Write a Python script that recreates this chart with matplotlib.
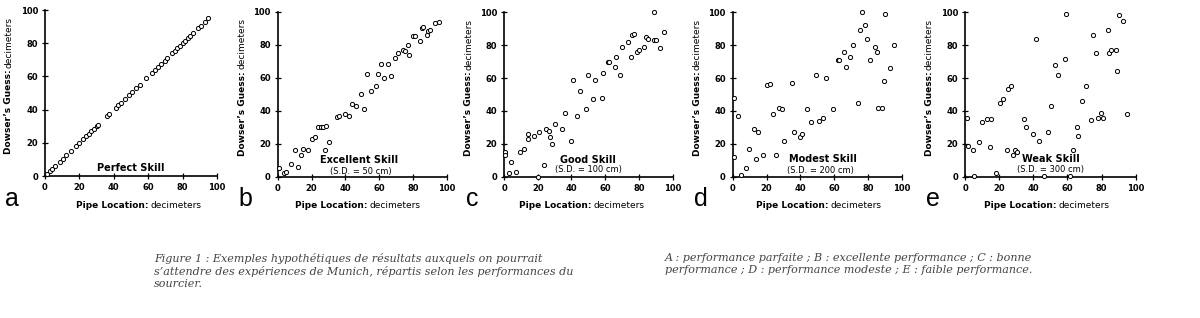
import matplotlib.pyplot as plt

# panel data: pipe location (x) vs dowser's guess (y), decimeters
a_x = [1, 3, 4, 6, 8.5, 10.5, 12.5, 15, 18, 20, 22, 24, 25.5, 27, 28.5, 30, 31,
       36, 37.5, 41, 42.5, 44, 46.5, 49, 50.5, 53, 55, 59, 62, 64, 65.5, 67.5,
       69.5, 71, 74, 75.5, 77, 78.5, 80, 81.5, 83, 84.5, 86, 89, 90.5, 93, 95]
a_y = list(a_x)

b_x = [1, 4, 5, 8, 10, 12, 14, 15, 18, 20, 22, 24, 25.5, 27, 28.5, 28, 30.5, 35,
       36, 40, 42, 44, 46, 49, 51, 53, 55, 58, 59, 61, 63, 65, 67, 69, 71, 74,
       75, 77, 77.5, 80, 81, 84, 85, 86, 88, 89, 90, 93, 95]
b_y = [5, 2, 3, 8, 16, 6, 13, 17, 16, 23, 24, 30, 30, 30, 31, 16, 21, 36, 37,
       38, 37, 44, 43, 50, 41, 62, 52, 55, 62, 68, 60, 68, 61, 72, 75, 77, 76,
       80, 74, 85, 85, 82, 90, 91, 86, 88, 89, 93, 94]

c_x = [0.5, 0.5, 3, 4, 7, 9.5, 12, 14, 14.5, 17.5, 21, 23.5, 20, 25, 26.5, 27.5,
       28.5, 30, 34.5, 36, 39.5, 41, 43, 45, 48.5, 50, 52.5, 54, 58, 58.5, 61.5,
       62.5, 66, 66.5, 68.5, 70, 73.5, 75, 76, 77, 79, 80, 83, 84, 85.5, 89, 89,
       90, 92.5, 95]
c_y = [15, 13, 2, 9, 3, 15, 17, 26, 23, 25, 27, 7, 0, 29, 28, 24, 20, 32, 29, 39,
       22, 59, 37, 52, 41, 62, 47, 59, 48, 63, 69.5, 70, 67, 73, 62, 79, 82, 73,
       86, 87, 76, 77, 79, 85, 84, 100, 83, 83, 78, 88]

d_x = [1, 1, 3.3, 4.7, 7.7, 9.8, 12.6, 14, 15, 18, 20, 22, 24, 25.5, 27.3, 29,
       30.5, 35, 36.3, 40, 41, 43.6, 46, 49, 51, 53.4, 55, 59, 62, 63, 66, 67,
       69, 71, 74, 75, 76.5, 78, 79.6, 81, 84, 85, 86, 88.4, 89.4, 90, 92.7, 95]
d_y = [12, 48, 37, 1, 5, 17, 29, 10.5, 27, 13, 56, 56.5, 38, 13, 42, 41, 22, 57,
       27, 24, 26, 41, 33, 62, 34, 36, 60, 41, 71, 71, 76, 67, 73, 80, 45, 89,
       100, 92, 84, 71, 79, 76, 42, 42, 58, 99, 66, 80]

e_x = [1.4, 1.6, 4.5, 5.5, 8.4, 10, 12.7, 15, 14.6, 18, 20.5, 22, 24.4, 25.4, 27,
       28, 29, 30.7, 34.8, 36, 39.6, 41.4, 43.6, 46, 48.4, 50.4, 52.7, 54.3,
       58.6, 59, 61.5, 63, 65.4, 66.4, 68.8, 70.7, 73.6, 75.2, 76.5, 77.7, 79.5,
       81, 83.6, 84.6, 85.5, 88.3, 88.8, 90, 92.8, 95]
e_y = [36, 18.5, 16, 0.5, 21, 33.5, 35, 35, 18, 2, 45, 47, 16, 53.5, 55, 13, 16,
       15, 35, 30, 26, 84, 22, 0.5, 27, 43, 68, 62, 71.5, 99, 0.5, 16.5, 30, 25,
       46, 55, 34.5, 86, 75, 35.5, 38.5, 36, 89.5, 75, 77, 77, 64.5, 98.5, 95, 38]

panel_x = [a_x, b_x, c_x, d_x, e_x]
panel_y = [a_y, b_y, c_y, d_y, e_y]
letters = ["a", "b", "c", "d", "e"]
skill_titles = ["Perfect Skill", "Excellent Skill", "Good Skill",
                "Modest Skill", "Weak Skill"]
sd_labels = ["", "(S.D. = 50 cm)", "(S.D. = 100 cm)", "(S.D. = 200 cm)",
             "(S.D. = 300 cm)"]
ticks = [0, 20, 40, 60, 80, 100]

# layout (figure fractions) and text anchor spots
axes_pos = [(0.0375, 0.4465, 0.1433, 0.522), (0.2314, 0.4443, 0.1411, 0.519),
            (0.4200, 0.4443, 0.1406, 0.517), (0.6106, 0.4443, 0.1411, 0.517),
            (0.8042, 0.4443, 0.1422, 0.517)]
xlab_split = [0.60, 0.533, 0.519, 0.568, 0.536]
title_spots = [(50, 4.8), (48, 10), (50, 10), (53, 10.5), (50.4, 10.5)]
sd_spots = [(0, 0), (49, 3), (50, 4.5), (52, 3.6), (50, 4.4)]

fig = plt.figure(figsize=(12, 3.18), dpi=100)

for i in range(5):
    ax = fig.add_axes(axes_pos[i])
    ax.scatter(panel_x[i], panel_y[i], s=9, facecolors="white",
               edgecolors="black", linewidths=0.7, clip_on=False, zorder=3)
    ax.set_xlim(0, 100)
    ax.set_ylim(0, 100)
    ax.set_xticks(ticks)
    ax.set_yticks(ticks)
    for side in ["top", "right"]:
        ax.spines[side].set_visible(False)
    for side in ["left", "bottom"]:
        ax.spines[side].set_linewidth(1.2)
    ax.tick_params(direction="inout", length=4, width=0.9, pad=3,
                   labelsize=6)
    for lab in ax.get_xticklabels() + ax.get_yticklabels():
        lab.set_fontweight("bold")

    # mixed weight axis labels
    s = xlab_split[i]
    ax.text(s, -0.19, "Pipe Location:", transform=ax.transAxes,
            ha="right", va="baseline", fontsize=6.5, fontweight="bold")
    ax.text(s + 0.012, -0.19, "decimeters", transform=ax.transAxes,
            ha="left", va="baseline", fontsize=6.5)
    ax.text(-0.21, 0.64, "Dowser\u2019s Guess:", transform=ax.transAxes,
            rotation=90, ha="center", va="top", fontsize=6.5,
            fontweight="bold")
    ax.text(-0.21, 0.65, "decimeters", transform=ax.transAxes,
            rotation=90, ha="center", va="bottom", fontsize=6.5)

    ax.text(-0.19, -0.18, letters[i], transform=ax.transAxes, ha="center",
            va="baseline", fontsize=18, family="Liberation Sans")

    tx, ty = title_spots[i]
    ax.text(tx, ty, skill_titles[i], ha="center", va="center", fontsize=7,
            fontweight="bold")
    if sd_labels[i]:
        sx, sy = sd_spots[i]
        ax.text(sx, sy, sd_labels[i], ha="center", va="center", fontsize=6)

cap_left = ("Figure 1 : Exemples hypothétiques de résultats auxquels on pourrait\n"
            "s\u2019attendre des expériences de Munich, répartis selon les performances du\n"
            "sourcier.")
cap_right = ("A : performance parfaite ; B : excellente performance ; C : bonne\n"
             "performance ; D : performance modeste ; E : faible performance.")

fig.text(154 / 1200, 1 - 253 / 318, cap_left, ha="left", va="top",
         fontsize=8, family="DejaVu Serif", style="italic", color="#444444",
         linespacing=1.25)
fig.text(665 / 1200, 1 - 253 / 318, cap_right, ha="left", va="top",
         fontsize=8, family="DejaVu Serif", style="italic", color="#444444",
         linespacing=1.25)

fig.savefig("out.png", dpi=100, facecolor="white")
